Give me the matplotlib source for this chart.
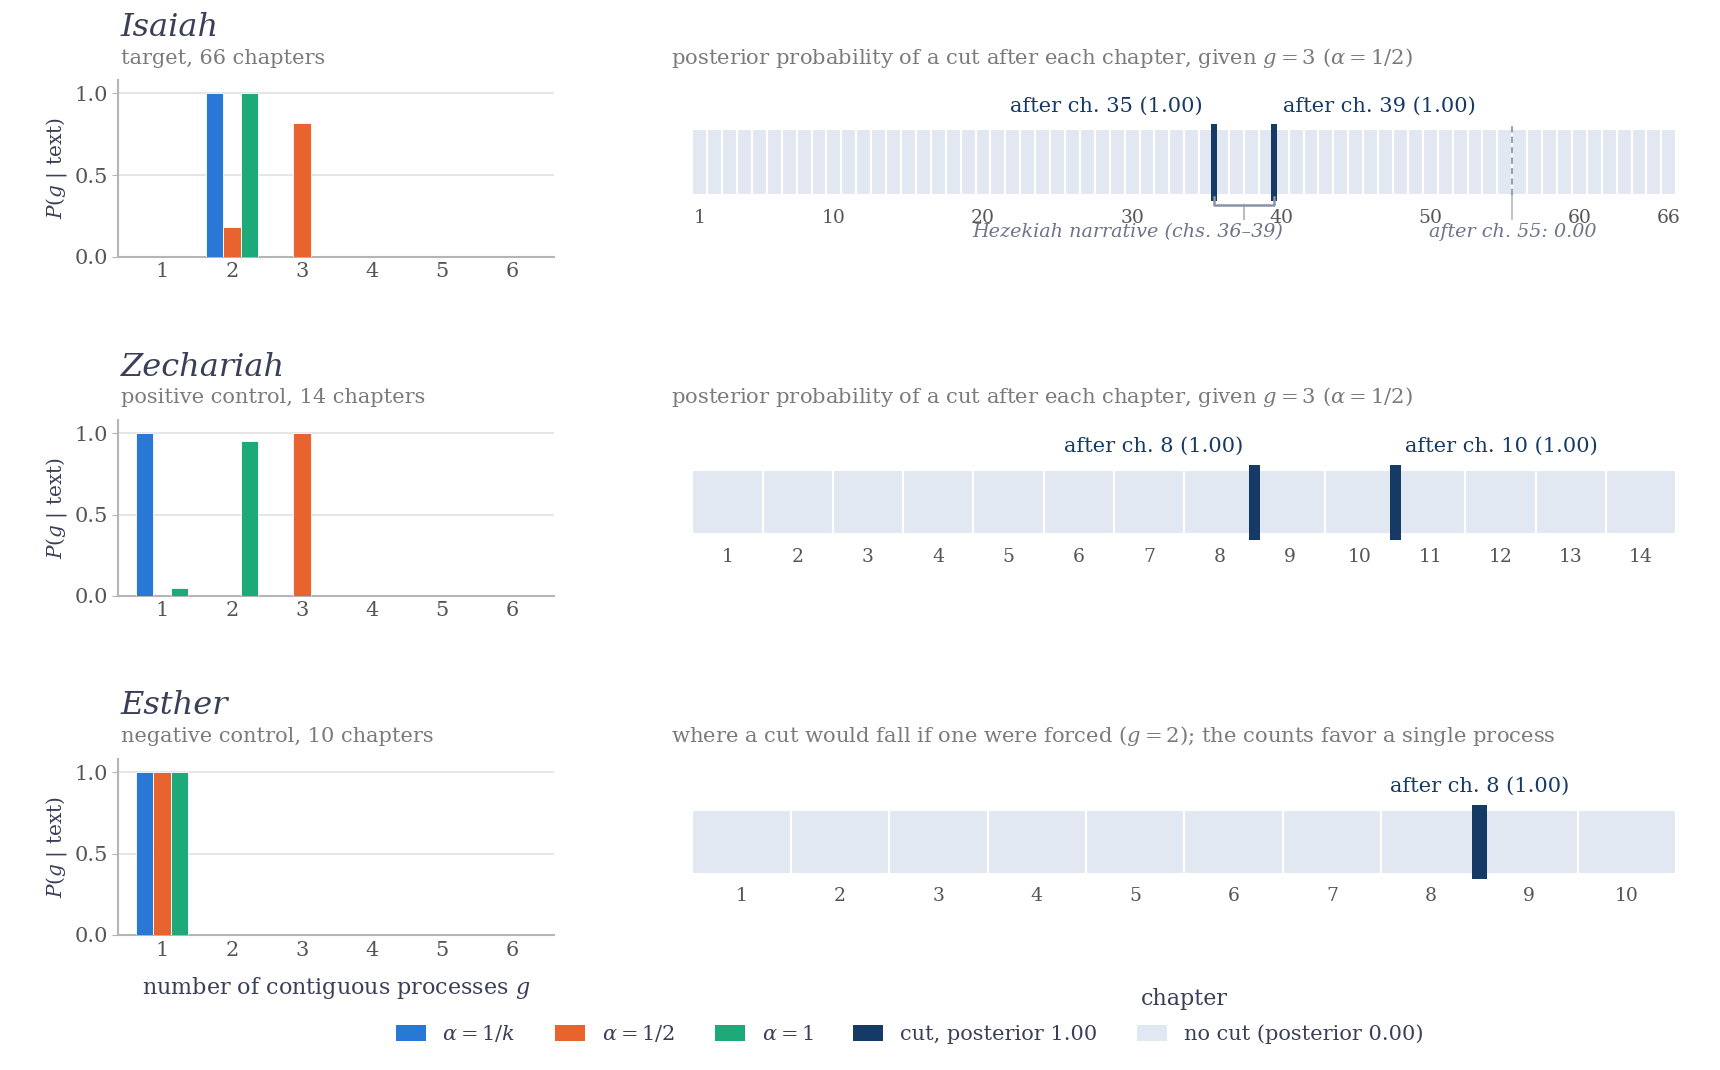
import numpy as np
import matplotlib
matplotlib.use("Agg")
import matplotlib.pyplot as plt
from matplotlib.patches import Patch

plt.rcParams['font.family'] = ['DejaVu Serif']
plt.rcParams['mathtext.fontset'] = 'dejavuserif'

# data
books = ['Isaiah', 'Zechariah', 'Esther']
roles = ['target, 66 chapters', 'positive control, 14 chapters', 'negative control, 10 chapters']
n_chapters = [66, 14, 10]
g_values = [1, 2, 3, 4, 5, 6]
alpha_labels = [r'$\alpha = 1/k$', r'$\alpha = 1/2$', r'$\alpha = 1$']

p_isaiah = [[0, 1.0, 0, 0, 0, 0],
            [0, 0.18, 0.82, 0, 0, 0],
            [0, 1.0, 0, 0, 0, 0]]
p_zechariah = [[1.0, 0, 0, 0, 0, 0],
               [0, 0, 1.0, 0, 0, 0],
               [0.05, 0.95, 0, 0, 0, 0]]
p_esther = [[1.0, 0, 0, 0, 0, 0],
            [1.0, 0, 0, 0, 0, 0],
            [1.0, 0, 0, 0, 0, 0]]
posteriors = [p_isaiah, p_zechariah, p_esther]

cuts_isaiah = [35, 39]
cuts_zechariah = [8, 10]
cuts_esther = [8]
cuts = [cuts_isaiah, cuts_zechariah, cuts_esther]
cut_prob = [[1.00, 1.00], [1.00, 1.00], [1.00]]

ticks_isaiah = [1, 10, 20, 30, 40, 50, 60, 66]
strip_ticks = [ticks_isaiah, list(range(1, 15)), list(range(1, 11))]

strip_titles = [r'posterior probability of a cut after each chapter, given $g = 3$ ($\alpha = 1/2$)',
                r'posterior probability of a cut after each chapter, given $g = 3$ ($\alpha = 1/2$)',
                r'where a cut would fall if one were forced ($g = 2$); the counts favor a single process']

# colours
c_alpha = ['#2a78d6', '#e8632e', '#1daa78']
c_cut = '#163a66'
c_nocut = '#e2e8f2'
c_title = '#3a3f58'
c_sub = '#7a7a7a'
c_tick = '#555555'

fig = plt.figure(figsize=(17.2, 10.7), dpi=100)

bar_rows = [(0.760, 0.165), (0.4431, 0.1641), (0.1262, 0.1641)]
strip_rows = [(0.8174, 0.0616), (0.5005, 0.0605), (0.1836, 0.0595)]
title_y = [(0.9744, 0.9457), (0.6565, 0.6288), (0.3406, 0.3118)]
cut_width = [0.42, 0.16, 0.16]

for i in range(3):
    # bar chart of P(g | text)
    ax = fig.add_axes([0.0688, bar_rows[i][0], 0.2535, bar_rows[i][1]])
    x = np.array(g_values)
    for j in range(3):
        ax.bar(x + (j - 1) * 0.25, posteriors[i][j], width=0.25, color=c_alpha[j],
               edgecolor='white', linewidth=0.6, zorder=3)
    ax.set_xlim(0.38, 6.6)
    ax.set_ylim(0, 1.08)
    ax.set_yticks([0, 0.5, 1.0])
    ax.set_yticklabels(['0.0', '0.5', '1.0'])
    ax.set_xticks(g_values)
    ax.yaxis.grid(True, color='#e4e4e4', linewidth=1.3, zorder=0)
    for s in ['top', 'right']:
        ax.spines[s].set_visible(False)
    for s in ['left', 'bottom']:
        ax.spines[s].set_color('#b5b5b5')
        ax.spines[s].set_linewidth(1.5)
    ax.tick_params(axis='x', length=0, labelsize=15, colors=c_tick, pad=4)
    ax.tick_params(axis='y', length=4, color='#b5b5b5', labelsize=15, labelcolor=c_tick)
    ax.set_ylabel(r'$P(g\ |\ \mathrm{text})$', fontsize=14.5, color=c_title)
    if i == 2:
        ax.set_xlabel(r'number of contiguous processes $g$', fontsize=16, color=c_title, labelpad=11)

    fig.text(0.0701, title_y[i][0], books[i], fontsize=23, style='italic',
             color=c_title, va='center')
    fig.text(0.0701, title_y[i][1], roles[i], fontsize=15, color=c_sub, va='center')
    fig.text(0.3904, title_y[i][1], strip_titles[i], fontsize=15.2, color=c_sub, va='center')

    # chapter strip
    n = n_chapters[i]
    sx = fig.add_axes([0.4025, strip_rows[i][0], 0.5721, strip_rows[i][1]])
    chapters = np.arange(1, n + 1)
    sx.bar(chapters, np.ones(n), width=1.0, bottom=0, color=c_nocut,
           edgecolor='white', linewidth=1.5)
    sx.set_xlim(0.5, n + 0.5)
    sx.set_ylim(0, 1)
    sx.set_yticks([])
    sx.set_xticks(strip_ticks[i])
    sx.tick_params(axis='x', length=0, labelsize=13.5, colors=c_tick, pad=10)
    for s in sx.spines.values():
        s.set_visible(False)

    for k, c in enumerate(cuts[i]):
        sx.bar(c + 0.5, 1.16, width=cut_width[i], bottom=-0.08, color=c_cut,
               zorder=4, clip_on=False)
        lab = 'after ch. %d (%.2f)' % (c, cut_prob[i][k])
        if len(cuts[i]) == 1:
            dx, ha = 0, 'center'
        elif k == 0:
            dx, ha = -8, 'right'
        else:
            dx, ha = 7, 'left'
        sx.annotate(lab, (c + 0.5, 1.0), xytext=(dx, 17), textcoords='offset points',
                    ha=ha, va='center', fontsize=15, color=c_cut)

    if i == 0:
        # Hezekiah bracket
        bc = '#8a93a6'
        sx.plot([35.5, 35.5, 39.5, 39.5], [-0.02, -0.14, -0.14, -0.02], color=bc,
                lw=1.8, clip_on=False, zorder=5)
        sx.plot([37.5, 37.5], [-0.14, -0.36], color='#b8bdc8', lw=1.5, clip_on=False)
        sx.text(40.1, -0.56, 'Hezekiah narrative (chs. 36\u201339)', ha='right', va='center',
                fontsize=13.8, style='italic', color='#6b7488')
        # ch. 55 reference
        sx.plot([55.5, 55.5], [0, 1.12], color='#9aa0b0', lw=1.5, ls=(0, (3, 2)),
                clip_on=False, zorder=5)
        sx.plot([55.5, 55.5], [0, -0.36], color='#c0c4cc', lw=1.5, clip_on=False)
        sx.text(55.5, -0.56, 'after ch. 55: 0.00', ha='center', va='center',
                fontsize=13.8, style='italic', color='#6b7488')

fig.text(0.6883, 0.0667, 'chapter', ha='center', va='center', fontsize=16, color=c_title)

handles = [Patch(facecolor=c_alpha[0]), Patch(facecolor=c_alpha[1]), Patch(facecolor=c_alpha[2]),
           Patch(facecolor=c_cut), Patch(facecolor=c_nocut)]
labels = alpha_labels + ['cut, posterior 1.00', 'no cut (posterior 0.00)']
leg = fig.legend(handles, labels, loc='center', bbox_to_anchor=(0.5287, 0.0338), ncol=5,
                 frameon=False, fontsize=15, handlelength=1.45, handleheight=0.8,
                 columnspacing=1.9, handletextpad=0.8)
for t in leg.get_texts():
    t.set_color(c_title)

fig.savefig('out.png', dpi=100)
